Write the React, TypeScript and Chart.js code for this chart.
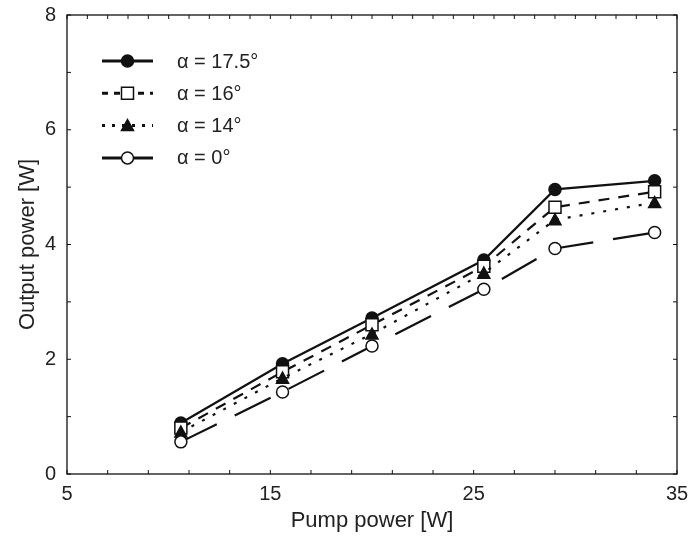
import { useEffect, useRef } from "react";
import { Chart, registerables } from "chart.js";

Chart.register(...registerables);

// ---- data ----
const pumpPower = [10.6, 15.6, 20.0, 25.5, 29.0, 33.9];
const alpha175 = [0.89, 1.92, 2.72, 3.73, 4.96, 5.11];
const alpha16 = [0.8, 1.78, 2.6, 3.62, 4.65, 4.92];
const alpha14 = [0.73, 1.67, 2.44, 3.5, 4.43, 4.73];
const alpha0 = [0.56, 1.43, 2.23, 3.22, 3.93, 4.21];
const seriesLabels = ["α = 17.5°", "α = 16°", "α = 14°", "α = 0°"];
const xMin = 5;
const xMax = 35;
const xStep = 10;
const yMin = 0;
const yMax = 8;
const yStep = 2;
const xTitle = "Pump power [W]";
const yTitle = "Output power [W]";

const FONT = "Arial, 'Liberation Sans', sans-serif";
const INK = "#111";

type Marker = "filledCircle" | "openSquare" | "filledTriangle" | "openCircle";
const styles: { dash: number[]; legendDash: number[]; marker: Marker }[] = [
  { dash: [], legendDash: [], marker: "filledCircle" },
  { dash: [11, 9], legendDash: [6, 6], marker: "openSquare" },
  { dash: [3, 9], legendDash: [3, 7], marker: "filledTriangle" },
  { dash: [40, 20], legendDash: [], marker: "openCircle" },
];

function drawMarker(ctx: CanvasRenderingContext2D, m: Marker, x: number, y: number) {
  ctx.save();
  ctx.setLineDash([]);
  ctx.lineWidth = 1.5;
  ctx.strokeStyle = INK;
  ctx.beginPath();
  if (m === "filledCircle" || m === "openCircle") {
    ctx.arc(x, y, 6, 0, Math.PI * 2);
    ctx.fillStyle = m === "filledCircle" ? INK : "#fff";
  } else if (m === "openSquare") {
    ctx.rect(x - 6, y - 6, 12, 12);
    ctx.fillStyle = "#fff";
  } else {
    ctx.moveTo(x, y - 6);
    ctx.lineTo(x + 6, y + 5);
    ctx.lineTo(x - 6, y + 5);
    ctx.closePath();
    ctx.fillStyle = INK;
  }
  ctx.fill();
  ctx.stroke();
  ctx.restore();
}

const framePlugin = {
  id: "frame",
  afterDatasetsDraw(chart: any) {
    const { ctx, chartArea, scales } = chart;
    const { left, right, top, bottom } = chartArea;
    const x = scales.x;
    const y = scales.y;
    ctx.save();
    ctx.strokeStyle = INK;
    ctx.lineWidth = 1.3;
    ctx.setLineDash([]);
    ctx.strokeRect(left, top, right - left, bottom - top);
    ctx.lineWidth = 1;
    const t = 4;
    ctx.beginPath();
    for (let v = xMin; v <= xMax; v += 2) {
      const px = x.getPixelForValue(v);
      ctx.moveTo(px, bottom);
      ctx.lineTo(px, bottom - t);
    }
    for (let v = xMin; v <= xMax; v += 1) {
      const px = x.getPixelForValue(v);
      ctx.moveTo(px, top);
      ctx.lineTo(px, top + t);
    }
    for (let v = yMin; v <= yMax; v += 1) {
      const py = y.getPixelForValue(v);
      ctx.moveTo(left, py);
      ctx.lineTo(left + t, py);
      ctx.moveTo(right, py);
      ctx.lineTo(right - t, py);
    }
    ctx.stroke();
    ctx.restore();
  },
};

const legendPlugin = {
  id: "insideLegend",
  afterDraw(chart: any) {
    const { ctx, chartArea } = chart;
    const x0 = chartArea.left + 35;
    const x1 = chartArea.left + 86;
    const xm = (x0 + x1) / 2;
    const tx = chartArea.left + 110;
    seriesLabels.forEach((label, i) => {
      const cy = chartArea.top + 46 + i * 32.3;
      const st = styles[i];
      ctx.save();
      ctx.strokeStyle = INK;
      ctx.lineWidth = 3;
      ctx.setLineDash(st.legendDash);
      ctx.beginPath();
      ctx.moveTo(x0, cy);
      ctx.lineTo(x1, cy);
      ctx.stroke();
      ctx.restore();
      drawMarker(ctx, st.marker, xm, cy);
      ctx.save();
      ctx.fillStyle = "#222";
      ctx.font = `20px ${FONT}`;
      ctx.textBaseline = "middle";
      ctx.textAlign = "left";
      ctx.fillText(label, tx, cy + 1);
      ctx.restore();
    });
  },
};

const markerPlugin = {
  id: "markers",
  afterDatasetDraw(chart: any, args: any) {
    const i = args.index;
    const meta = chart.getDatasetMeta(i);
    meta.data.forEach((pt: any) => drawMarker(chart.ctx, styles[i].marker, pt.x, pt.y));
  },
};

export default function App() {
  const ref = useRef<HTMLCanvasElement | null>(null);
  useEffect(() => {
    if (!ref.current) return;
    const series = [alpha175, alpha16, alpha14, alpha0];
    const chart = new Chart(ref.current, {
      type: "line",
      data: {
        datasets: series.map((vals, i) => ({
          label: seriesLabels[i],
          data: vals.map((v, k) => ({ x: pumpPower[k], y: v })),
          borderColor: INK,
          borderWidth: 2.2,
          borderDash: styles[i].dash,
          pointRadius: 0,
          fill: false,
          tension: 0,
          order: 3 - i,
        })),
      },
      options: {
        responsive: false,
        animation: false,
        layout: { padding: { left: 0, right: 13, top: 15, bottom: 0 } },
        plugins: { legend: { display: false }, tooltip: { enabled: false } },
        scales: {
          x: {
            type: "linear",
            min: xMin,
            max: xMax,
            grid: { display: false, drawTicks: false },
            border: { display: false },
            ticks: {
              stepSize: xStep,
              padding: 8,
              color: "#222",
              font: { size: 20, family: FONT },
              maxRotation: 0,
            },
            title: {
              display: true,
              text: xTitle,
              color: "#222",
              font: { size: 22, family: FONT },
              padding: { top: 0, bottom: 6 },
            },
            afterFit(scale: any) {
              scale.height = 66;
              scale.paddingLeft = 0;
              scale.paddingRight = 0;
            },
          },
          y: {
            type: "linear",
            min: yMin,
            max: yMax,
            grid: { display: false, drawTicks: false },
            border: { display: false },
            ticks: {
              stepSize: yStep,
              padding: 11,
              color: "#222",
              font: { size: 20, family: FONT },
            },
            title: {
              display: true,
              text: yTitle,
              color: "#222",
              font: { size: 22, family: FONT },
              padding: { top: 15, bottom: 0 },
            },
            afterFit(scale: any) {
              scale.width = 67;
              scale.paddingTop = 0;
              scale.paddingBottom = 0;
            },
          },
        },
      },
      plugins: [framePlugin, markerPlugin, legendPlugin],
    } as any);
    return () => chart.destroy();
  }, []);
  return (
    <canvas
      ref={ref}
      width={690}
      height={540}
      style={{ position: "fixed", left: 0, top: 0, display: "block", background: "#fff" }}
    />
  );
}
